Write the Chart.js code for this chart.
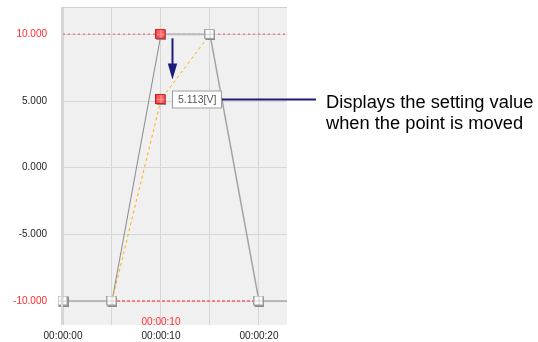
<!doctype html>
<html lang="en">
<head>
<meta charset="utf-8">
<title>Profile point edit</title>
<script src="https://cdn.jsdelivr.net/npm/chart.js@4.4.1/dist/chart.umd.min.js"></script>
<style>
 html,body{margin:0;padding:0;background:#fff}
 canvas{display:block}
</style>
</head>
<body>
<canvas id="chart" width="538" height="342"></canvas>

<script>
/* ===== data ========================================================= */
const timeSec   = [0, 5, 10, 15, 20];          // profile nodes [s]
const profileV  = [-10, -10, 10, 10, -10];     // profile values [V]
const movedTime = [5, 10, 15];                 // preview while dragging
const movedV    = [-10, 5.113, 10];
const upperLimit = 10, lowerLimit = -10;
const lowerSpan  = [5, 20];                    // red dashed part of lower limit
const xTicks = [0, 5, 10, 15, 20];
const yTicks = [-10, -5, 0, 5, 10];
const xMin = 0, xMax = 22.86, yMin = -11.8, yMax = 12.05;
const selIdx = 2;                              // point being moved
const noteLines = ['Displays the setting value', 'when the point is moved'];

const FONT = "'Liberation Sans', Arial, sans-serif";
const NAVY = '#1c1c7a';

/* ===== marker images ================================================ */
function marker(fill, border, cross){
  const c = document.createElement('canvas');
  c.width = 11; c.height = 11;
  const g = c.getContext('2d');
  g.fillStyle = '#8c8c8c'; g.fillRect(1, 1, 10, 10);
  g.fillStyle = fill;      g.fillRect(0, 0, 10, 10);
  g.strokeStyle = border;  g.lineWidth = 1; g.strokeRect(0.5, 0.5, 9, 9);
  g.strokeStyle = cross;
  g.beginPath(); g.moveTo(5.5, 1); g.lineTo(5.5, 9); g.moveTo(1, 5.5); g.lineTo(9, 5.5); g.stroke();
  return c;
}
const whiteMk = marker('#fbfbfb', '#a4a4a4', '#d4d4d4');
const redMk   = marker('#ff5c5c', '#d02020', '#ff9c9c');

/* ===== datasets ===================================================== */
const pts = (xs, ys) => xs.map((x, i) => ({x, y: ys[i]}));
const profilePts = pts(timeSec, profileV);
const markerPts  = profilePts.concat([{x: movedTime[1], y: movedV[1]}]);
const markerImgs = markerPts.map((p, i) => (i === selIdx || i === markerPts.length - 1) ? redMk : whiteMk);

const datasets = [
  { // markers on top
    data: markerPts, showLine: false, clip: false,
    pointStyle: markerImgs, pointRadius: 6
  },
  { // moved preview
    data: pts(movedTime, movedV), showLine: true, borderColor: '#ffb000', borderWidth: 1,
    borderDash: [3, 3], pointRadius: 0, clip: false
  },
  { // profile
    data: profilePts.concat([{x: xMax, y: profileV[profileV.length - 1]}]),
    showLine: true, borderColor: '#8a8a8a', borderWidth: 1, pointRadius: 0, clip: false,
    segment: {
      borderColor: c => c.p0DataIndex === 2 ? '#bcbcbc' : c.p0DataIndex === 3 ? '#a4a4a4' : undefined,
      borderWidth: c => c.p0DataIndex === 2 ? 2 : c.p0DataIndex === 3 ? 1.5 : undefined
    }
  },
  { // lower limit (dashed, between nodes)
    data: pts(lowerSpan, [lowerLimit, lowerLimit]), showLine: true, borderColor: '#ff1e1e',
    borderWidth: 1.2, borderDash: [3, 2], pointRadius: 0, clip: false
  },
  { // upper limit (dotted, full width)
    data: pts([xMin, xMax], [upperLimit, upperLimit]), showLine: true, borderColor: '#f07878',
    borderWidth: 1.5, borderDash: [2, 3], pointRadius: 0, clip: false
  }
];

/* ===== annotations ================================================== */
const decor = {
  id: 'decor',
  beforeDraw(chart){
    const {ctx, chartArea: a} = chart;
    ctx.save();
    ctx.fillStyle = '#f0f0f0';
    ctx.fillRect(a.left, a.top, a.right - a.left, a.bottom - a.top);
    ctx.restore();
  },
  afterDatasetsDraw(chart){
    const {ctx, chartArea: a, scales: {x, y}} = chart;
    ctx.save();
    // top and left frame
    ctx.strokeStyle = '#cfcfcf'; ctx.lineWidth = 1;
    ctx.beginPath(); ctx.moveTo(a.left, a.top + 0.5); ctx.lineTo(a.right, a.top + 0.5); ctx.stroke();
    ctx.strokeStyle = '#d6d6d6'; ctx.lineWidth = 2;
    ctx.beginPath(); ctx.moveTo(a.left - 1, a.top); ctx.lineTo(a.left - 1, a.bottom); ctx.stroke();

    const sx = x.getPixelForValue(timeSec[selIdx]);
    const syOld = y.getPixelForValue(profileV[selIdx]);
    const syNew = y.getPixelForValue(movedV[1]);

    // selected time label at the bottom
    ctx.font = `10px ${FONT}`; ctx.fillStyle = '#ff3030';
    ctx.textAlign = 'center'; ctx.textBaseline = 'middle';
    const s = timeSec[selIdx];
    ctx.fillText('00:00:' + String(s).padStart(2, '0'), sx, a.bottom - 3);

    // arrow
    const ax = sx + 11.5, tip = syNew - 20;
    ctx.strokeStyle = NAVY; ctx.fillStyle = NAVY; ctx.lineWidth = 2;
    ctx.beginPath(); ctx.moveTo(ax, syOld + 4); ctx.lineTo(ax, tip - 14); ctx.stroke();
    ctx.beginPath(); ctx.moveTo(ax - 4.7, tip - 16); ctx.lineTo(ax + 4.7, tip - 16); ctx.lineTo(ax, tip); ctx.closePath(); ctx.fill();

    // value box
    const bx = sx + 11, bw = 50, bh = 18, by = syNew - 9;
    ctx.fillStyle = '#fff'; ctx.fillRect(bx, by, bw, bh);
    ctx.strokeStyle = '#9a9a9a'; ctx.lineWidth = 1;
    ctx.strokeRect(bx + 0.5, by + 0.5, bw - 1, bh - 1);
    ctx.fillStyle = '#555'; ctx.textAlign = 'left';
    ctx.font = `10.5px ${FONT}`;
    ctx.fillText(movedV[1].toFixed(3) + '[V]', bx + 6, syNew + 0.5);

    // callout
    ctx.strokeStyle = NAVY; ctx.lineWidth = 2;
    ctx.beginPath(); ctx.moveTo(bx + bw, syNew); ctx.lineTo(316, syNew); ctx.stroke();
    ctx.fillStyle = '#000'; ctx.font = `18.3px ${FONT}`; ctx.textBaseline = 'alphabetic';
    noteLines.forEach((t, i) => ctx.fillText(t, 326, syNew + 8.5 + i * 21));
    ctx.restore();
  }
};

/* ===== chart ======================================================== */
new Chart(document.getElementById('chart'), {
  type: 'scatter',
  data: {datasets},
  options: {
    responsive: false, animation: false, devicePixelRatio: 1,
    layout: {padding: {top: 5.5, right: 251, left: 0, bottom: 0}},
    plugins: {legend: {display: false}, tooltip: {enabled: false}},
    scales: {
      x: {
        type: 'linear', min: xMin, max: xMax,
        afterBuildTicks: s => { s.ticks = xTicks.map(v => ({value: v})); },
        afterFit: s => { s.height = 17; s.paddingLeft = 0; s.paddingRight = 0; },
        grid: {color: '#d6d6d6', drawTicks: false},
        border: {display: false},
        ticks: {
          padding: 5, maxRotation: 0, autoSkip: false,
          font: {family: FONT, size: 10}, color: '#222',
          callback: v => v % 10 === 0 ? '00:00:' + String(v).padStart(2, '0') : ''
        }
      },
      y: {
        type: 'linear', min: yMin, max: yMax,
        afterBuildTicks: s => { s.ticks = yTicks.map(v => ({value: v})); },
        afterFit: s => { s.width = 63; s.paddingTop = 0; s.paddingBottom = 0; },
        grid: {color: '#d6d6d6', drawTicks: false},
        border: {display: false},
        ticks: {
          padding: 16,
          font: {family: FONT, size: 10},
          color: c => Math.abs(c.tick.value) === 10 ? '#ff2a2a' : '#222',
          callback: v => v.toFixed(3)
        }
      }
    }
  },
  plugins: [decor]
});
</script>
</body>
</html>
